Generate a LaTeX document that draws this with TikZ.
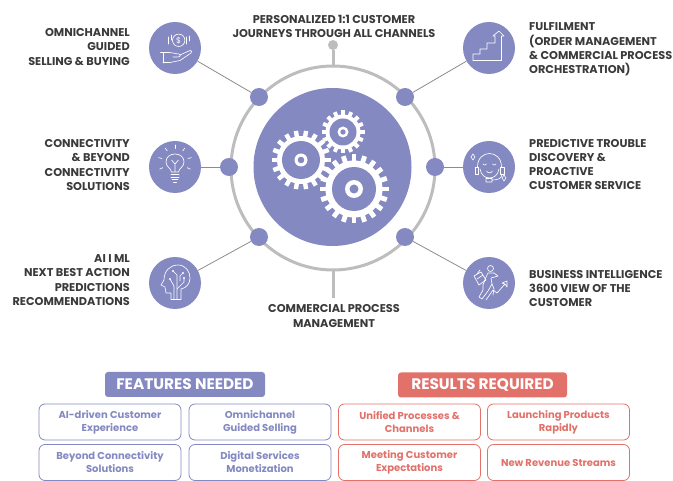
\documentclass[tikz,border=0pt]{standalone}
\usepackage{fontspec}
\setmainfont{Poppins}
\usetikzlibrary{positioning}

\definecolor{violet}{HTML}{8489C2}
\definecolor{salmon}{HTML}{E2716A}
\definecolor{ringgray}{HTML}{BDBDBD}
\definecolor{linegray}{HTML}{8C8C8C}
\definecolor{inkgray}{HTML}{3A3A3A}

\tikzset{
    iconball/.style={circle,fill=violet,minimum size=52pt,inner sep=0pt},
    ringdot/.style={circle,fill=violet,minimum size=18pt,inner sep=0pt},
    endpoint/.style={circle,fill=ringgray,minimum size=10pt,inner sep=0pt},
    topic/.style={text=inkgray,font=\fontsize{11.3}{14.3}\selectfont\bfseries,inner sep=0pt},
    glyph/.style={white,line width=0.65pt,line cap=round,line join=round},
    header/.style={rounded corners=3pt,minimum height=25pt,text=white,font=\fontsize{15.3}{17}\selectfont\bfseries},
    tile/.style={draw,fill=white,rounded corners=6pt,line width=0.8pt,minimum width=142pt,minimum height=36pt,
        inner sep=0pt,align=center,font=\fontsize{10}{13}\selectfont\bfseries},
}

% cx, cy, teeth, root, tip, hub, hole, eye, tooth width
\newcommand{\gearwheel}[9]{
    \pgfmathsetmacro{\gearstep}{360/#3}
    \pgfmathsetmacro{\gearlast}{360-\gearstep}
    \foreach \a in {0,\gearstep,...,\gearlast}
        \draw[white,line width=#9pt] (#1,#2) ++(\a:#4-1) -- ++(\a:#5-#4+1);
    \fill[white] (#1,#2) circle (#4);
    \fill[violet] (#1,#2) circle (#6);
    \fill[white] (#1,#2) circle (#7);
    \fill[violet] (#1,#2) circle (#8);
}

\begin{document}
\begin{tikzpicture}[x=1pt,y=-1pt]
    \useasboundingbox (0,0) rectangle (673,481);

    % ring and hub
    \coordinate (mid) at (333,168);
    \coordinate (ringT) at (333,66);
    \coordinate (ringB) at (333,270);
    \coordinate (capB) at (333,298);
    \draw[ringgray,line width=3pt] (mid) circle (102);
    \node[endpoint] (capT) at (333,45) {};
    \draw[ringgray,line width=3pt] (capT) -- (ringT);
    \draw[ringgray,line width=3pt] (ringB) -- (capB);

    \node[iconball] (iconA) at (175,48) {};
    \node[iconball] (iconB) at (175,167) {};
    \node[iconball] (iconC) at (175,283) {};
    \node[iconball] (iconD) at (489,48) {};
    \node[iconball] (iconE) at (489,167) {};
    \node[iconball] (iconF) at (489,283) {};
    \node[ringdot] (dotA) at (259,97) {};
    \node[ringdot] (dotB) at (229,167) {};
    \node[ringdot] (dotC) at (259,237) {};
    \node[ringdot] (dotD) at (405,97) {};
    \node[ringdot] (dotE) at (435,167) {};
    \node[ringdot] (dotF) at (405,237) {};
    \foreach \n in {A,B,C,D,E,F}
        \draw[linegray,line width=0.8pt] (icon\n) -- (dot\n);

    \fill[violet] (332.5,167) circle (79);
    \gearwheel{343}{132}{16}{17.5}{21.5}{13.5}{5.5}{2.7}{3.9}
    \gearwheel{301}{160}{18}{24}{29.5}{19}{6.5}{3.3}{4.4}
    \gearwheel{354}{189}{20}{28.5}{34.5}{22}{9}{4.5}{4.8}

    % hand and coin
    \begin{scope}[shift={(175,48)},glyph]
        \draw (3.7,-7.7) circle (6.2);
        \node[white,font=\fontsize{8}{8}\selectfont,inner sep=0pt] (coin) at (3.7,-7.7) {\$};
        \draw (-6.5,-11) -- (-6.5,-4) (-3.8,-13) -- (-3.8,-8) (11.5,-11) -- (11.5,-4) (14,-12) -- (14,-7);
        \draw (-14.5,4.5) -- (-6,4.5) .. controls (-3,4) and (0,6) .. (4,6)
            .. controls (6,6) and (6,9) .. (3,9) -- (-2,9);
        \draw (5,7) -- (15,2.5) .. controls (17,2) and (17,4) .. (16,5) -- (5,12.5) -- (-5,14.5) -- (-12,14.5);
        \draw (-12,5) -- (-12,15);
    \end{scope}

    % light bulb
    \begin{scope}[shift={(175,167)},glyph]
        \draw (-3.5,5) .. controls (-4,1) and (-9,0) .. (-9,-5)
            .. controls (-9,-10) and (-5,-13) .. (0,-13)
            .. controls (5,-13) and (9,-10) .. (9,-5)
            .. controls (9,0) and (4,1) .. (3.5,5) -- cycle;
        \draw (0,5) -- (0,-3) (-3.5,-7) -- (0,-3) -- (3.5,-7);
        \draw (-4,7.5) -- (4,7.5) (-4,10) -- (4,10) (-3,12.5) -- (3,12.5) (-1.5,15) -- (1.5,15);
        \foreach \a in {-90,-55,-125,-15,-165,25,155}
            \draw (0,-5) ++(\a:13.5) -- ++(\a:3.5);
    \end{scope}

    % head with circuit
    \begin{scope}[shift={(175,283)},glyph]
        \draw (-4,16.5) -- (-4,10) -- (-9,10) -- (-10,4) -- (-14,2)
            -- (-11,-3) .. controls (-11,-12) and (-5,-18) .. (3,-18)
            .. controls (11,-18) and (15,-11) .. (15,-5)
            .. controls (15,1) and (11,5) .. (6,6) -- (6,16.5) -- cycle;
        \draw (-1,16) -- (-1,3) -- (-5,-4) (2,16) -- (2,-8) -- (-2,-12);
        \draw (2,6) -- (9,-1) -- (9,-5) (5,-2) -- (5,-7) -- (8,-10);
        \fill[white] (-5,-4) circle (1.1) (-2,-12) circle (1.1) (9,-5) circle (1.1) (8,-10) circle (1.1);
    \end{scope}

    % stairs and arrow
    \begin{scope}[shift={(489,48)},glyph]
        \draw (-16,12.5) -- (-16,6) -- (-9,6) -- (-9,1) -- (-2,1) -- (-2,-5) -- (6,-5)
            -- (6,-12) -- (4,-12) -- (10,-17) -- (15,-12) -- (12.5,-12) -- (12.5,12.5) -- cycle;
    \end{scope}

    % headset
    \begin{scope}[shift={(489,167)},glyph]
        \draw (-11.5,0) .. controls (-11.5,-18) and (12.5,-18) .. (12.5,0);
        \draw (-9,2) .. controls (-8,8) and (-4,11) .. (0.5,11) .. controls (5,11) and (9,8) .. (10,2);
        \draw (-14,0) rectangle (-10.5,7) (11.5,0) rectangle (15,7);
        \draw (-6,-3) .. controls (-5,-1.5) and (-3.5,-1.5) .. (-2.5,-3)
            (3.5,-3) .. controls (4.5,-1.5) and (6,-1.5) .. (7,-3);
        \draw (-2.5,4) .. controls (-1,6.5) and (2,6.5) .. (3.5,4);
        \draw (13,7) .. controls (13,12) and (8,13) .. (3,13) (-3,11.5) rectangle (3,15);
        \draw (-16,-13) .. controls (-15.5,-11) .. (-14,-10) .. controls (-15.5,-9) .. (-16,-7)
            .. controls (-16.5,-9) .. (-18,-10) .. controls (-16.5,-11) .. (-16,-13) -- cycle;
        \draw (15,8) .. controls (15.5,10) .. (17,11) .. controls (15.5,12) .. (15,14)
            .. controls (14.5,12) .. (13,11) .. controls (14.5,10) .. (15,8) -- cycle;
    \end{scope}

    % runner with rising arrow
    \begin{scope}[shift={(489,283)},glyph]
        \draw (1.5,-14.5) circle (3);
        \draw (-3,-6) -- (-1,-10) -- (5,-10) -- (9,-7) -- (2,-5) -- (3,1) -- (-1,8) -- (-7,16) -- (-10,14) -- (-6,7) -- (-6,2) -- cycle;
        \draw (3,1) -- (5,6) -- (4,12);
        \draw (-15,-7) -- (-8,-11) -- (-3,-3) -- (-10,2) -- cycle;
        \draw (-12,-9) -- (-9,-13) (-12,-4) -- (-6,-8);
        \draw (-3,17) -- (4,7) -- (8,10) -- (16,1) -- (13,0) -- (18,-2) -- (18,4) -- (16,1);
    \end{scope}

    % labels round the ring
    \node[topic,align=center] (lblTop) at (334,26.5) {PERSONALIZED 1:1 CUSTOMER\\JOURNEYS THROUGH ALL CHANNELS};
    \node[topic,align=center] (lblBottom) at (334,316) {COMMERCIAL PROCESS\\MANAGEMENT};
    \node[topic,align=right,anchor=east] (lblA) at (130,47) {OMNICHANNEL\\GUIDED\\SELLING \& BUYING};
    \node[topic,align=right,anchor=east] (lblB) at (130,165) {CONNECTIVITY\\\& BEYOND\\CONNECTIVITY\\SOLUTIONS};
    \node[topic,align=right,anchor=east] (lblC) at (130,280) {AI I ML\\NEXT BEST ACTION\\PREDICTIONS\\RECOMMENDATIONS};
    \node[topic,align=left,anchor=west] (lblD) at (529,49.5) {FULFILMENT\\(ORDER MANAGEMENT\\\& COMMERCIAL PROCESS\\ORCHESTRATION)};
    \node[topic,align=left,anchor=west] (lblE) at (529,164.5) {PREDICTIVE TROUBLE\\DISCOVERY \&\\PROACTIVE\\CUSTOMER SERVICE};
    \node[topic,align=left,anchor=west] (lblF) at (529,288.5) {BUSINESS INTELLIGENCE\\3600 VIEW OF THE\\CUSTOMER};

    % lower panels
    \node[header,fill=violet,minimum width=160pt] (featHead) at (185,384.5) {FEATURES NEEDED};
    \node[header,fill=salmon,minimum width=169pt] (resHead) at (482.5,385) {RESULTS REQUIRED};

    \node[tile,draw=violet,text=violet] (featA) at (110,422) {AI-driven Customer\\Experience};
    \node[tile,draw=violet,text=violet] (featB) at (260,422) {Omnichannel\\Guided Selling};
    \node[tile,draw=violet,text=violet] (featC) at (110,462.5) {Beyond Connectivity\\Solutions};
    \node[tile,draw=violet,text=violet] (featD) at (260,462.5) {Digital Services\\Monetization};
    \node[tile,draw=salmon,text=salmon] (resA) at (409.5,422) {Unified Processes \&\\Channels};
    \node[tile,draw=salmon,text=salmon] (resB) at (558.5,422) {Launching Products\\Rapidly};
    \node[tile,draw=salmon,text=salmon] (resC) at (409.5,462.5) {Meeting Customer\\Expectations};
    \node[tile,draw=salmon,text=salmon] (resD) at (558.5,462.5) {New Revenue Streams};
\end{tikzpicture}
\end{document}
